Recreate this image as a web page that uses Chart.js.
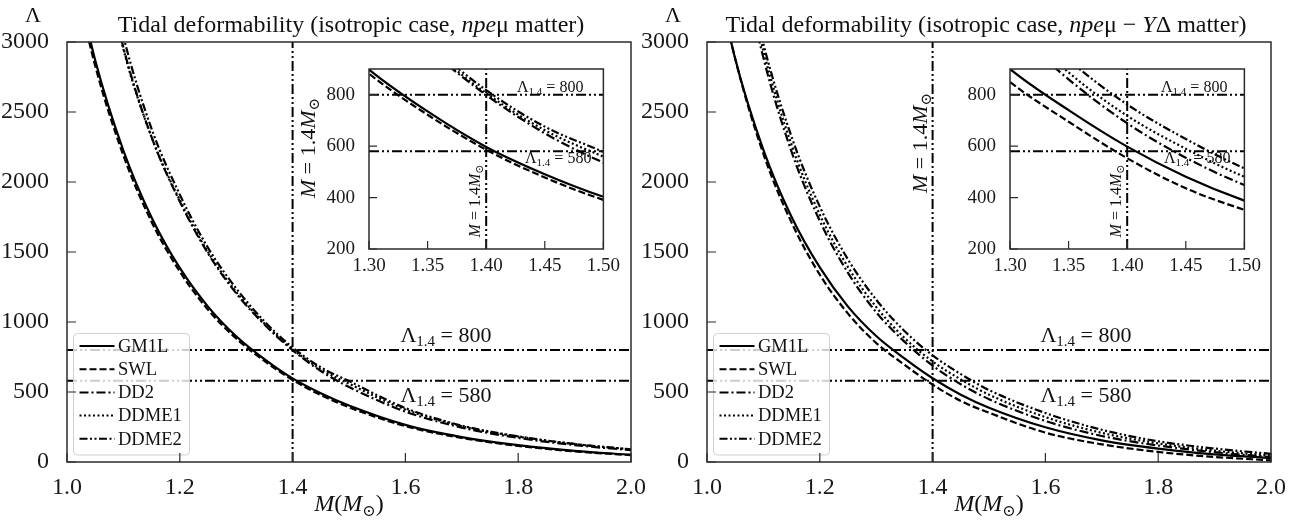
<!DOCTYPE html>
<html>
<head>
<meta charset="utf-8">
<script src="https://cdn.jsdelivr.net/npm/chart.js@4.4.1/dist/chart.umd.min.js"></script>
<style>
  body { margin: 0; background: #fff; }
  #wrap { position: relative; width: 1304px; height: 527px; overflow: hidden; }
  canvas { position: absolute; }
</style>
</head>
<body>
<div id="wrap">
  <canvas id="mainL" width="652" height="527" style="left:0;top:0"></canvas>
  <canvas id="mainR" width="652" height="527" style="left:640px;top:0"></canvas>
  <canvas id="insetL" width="310" height="230" style="left:310px;top:50px"></canvas>
  <canvas id="insetR" width="310" height="230" style="left:951px;top:50px"></canvas>
</div>
<script>
// neutron star mass grid (M_sun)
const masses = [1.0, 1.05, 1.1, 1.15, 1.2, 1.25, 1.3, 1.35, 1.4, 1.45, 1.5, 1.6, 1.7, 1.8, 1.9, 2.0];

// tidal deformability, npe-mu matter
const gm1lNpe  = [3750, 2870, 2225, 1747, 1386, 1110, 898, 735, 597, 491, 403, 265, 178, 120, 80, 52];
const swlNpe   = [3700, 2830, 2190, 1715, 1360, 1088, 882, 722, 586, 478, 391, 256, 172, 115, 76, 49];
const dd2Npe   = [5050, 3880, 2960, 2320, 1860, 1490, 1205, 982, 799, 650, 536, 360, 246, 172, 121, 84];
const ddme1Npe = [5000, 3880, 2950, 2320, 1870, 1500, 1215, 990, 806, 662, 559, 375, 255, 181, 128, 90];
const ddme2Npe = [5150, 3980, 3040, 2380, 1910, 1530, 1240, 1005, 818, 676, 578, 385, 260, 183, 129, 90];

// tidal deformability, npe-mu - Y Delta matter
const gm1lYd  = [3800, 2880, 2230, 1750, 1390, 1110, 900, 740, 598, 481, 388, 248, 155, 96, 55, 28];
const swlYd   = [3805, 2880, 2200, 1710, 1338, 1060, 850, 695, 553, 436, 352, 210, 126, 72, 36, 12];
const dd2Yd   = [5085, 3810, 2887, 2215, 1722, 1351, 1070, 860, 689, 555, 449, 293, 186, 118, 70, 35];
const ddme1Yd = [5134, 3856, 2937, 2264, 1766, 1392, 1107, 887, 718, 590, 481, 321, 208, 133, 81, 45];
const ddme2Yd = [5113, 3886, 2986, 2322, 1824, 1447, 1159, 936, 762, 628, 514, 350, 230, 148, 96, 58];

const eosNames = ['GM1L', 'SWL', 'DD2', 'DDME1', 'DDME2'];
const mainXTicks = [1.0, 1.2, 1.4, 1.6, 1.8, 2.0];
const mainYTicks = [0, 500, 1000, 1500, 2000, 2500, 3000];
const insetXTicks = [1.30, 1.35, 1.40, 1.45, 1.50];
const insetYTicks = [200, 400, 600, 800];
const lambdaLimits = [800, 580];
const mCanon = 1.4;

const SERIF = "'Liberation Serif', 'DejaVu Serif', serif";
const font = (size, style) => (style ? style + ' ' : '') + size + 'px ' + SERIF;
const eosDash = [[], [7, 3], [9, 3, 2, 3], [2, 2.5], [8, 2.5, 2, 2.5, 2, 2.5]];
const refDash = [10, 3, 2, 3, 2, 3];

function drawRuns(ctx, runs, x, y, align, angle) {
  ctx.save();
  ctx.translate(x, y);
  if (angle) ctx.rotate(angle);
  let w = 0;
  runs.forEach(r => { ctx.font = r.f; w += ctx.measureText(r.t).width; });
  let cx = align === 'center' ? -w / 2 : align === 'right' ? -w : 0;
  ctx.fillStyle = '#111';
  ctx.textBaseline = 'alphabetic';
  runs.forEach(r => {
    ctx.font = r.f;
    ctx.fillText(r.t, cx, r.dy || 0);
    cx += ctx.measureText(r.t).width;
  });
  ctx.restore();
}

const mRuns = s => [
  { t: 'M', f: font(s, 'italic') }, { t: ' = 1.4', f: font(s) },
  { t: 'M', f: font(s, 'italic') }, { t: '\u2299', f: font(Math.round(s * 0.7)), dy: s * 0.2 }
];
const lamRuns = (s, v) => [
  { t: '\u039B', f: font(s) }, { t: '1.4', f: font(Math.round(s * 0.68)), dy: s * 0.18 },
  { t: ' = ' + v, f: font(s) }
];

// frame + inward ticks drawn from the chart's own scales
const frameTicks = {
  id: 'frameTicks',
  beforeDatasetsDraw(chart, args, o) {
    if (!o.fill) return;
    const { ctx, chartArea: a } = chart;
    ctx.save();
    ctx.fillStyle = '#fff';
    ctx.fillRect(a.left, a.top, a.right - a.left, a.bottom - a.top);
    ctx.restore();
  },
  afterDraw(chart, args, o) {
    const { ctx, chartArea: a, scales: { x, y } } = chart;
    ctx.save();
    ctx.strokeStyle = '#2b2b2b';
    ctx.lineWidth = 1.2;
    ctx.beginPath();
    x.ticks.forEach(t => { const p = x.getPixelForValue(t.value); ctx.moveTo(p, a.bottom); ctx.lineTo(p, a.bottom - o.len); });
    y.ticks.forEach(t => { const p = y.getPixelForValue(t.value); ctx.moveTo(a.left, p); ctx.lineTo(a.left + o.len, p); });
    ctx.stroke();
    ctx.lineWidth = 1.5;
    ctx.strokeRect(a.left, a.top, a.right - a.left, a.bottom - a.top);
    ctx.restore();
  }
};

const boxLegend = {
  id: 'boxLegend',
  afterDatasetsDraw(chart, args, o) {
    if (!o.show) return;
    const { ctx, chartArea: a } = chart;
    const x0 = a.left + 6.5, y0 = a.bottom - 128.5;
    ctx.save();
    ctx.fillStyle = 'rgba(255,255,255,0.8)';
    ctx.strokeStyle = '#cfcfcf';
    ctx.lineWidth = 1;
    ctx.beginPath();
    ctx.roundRect(x0, y0, 116, 121.5, 4);
    ctx.fill();
    ctx.stroke();
    chart.data.datasets.slice(0, 5).forEach((d, i) => {
      const yy = y0 + 12.5 + i * 23.2;
      ctx.setLineDash(d.borderDash);
      ctx.lineWidth = 2;
      ctx.strokeStyle = '#000';
      ctx.beginPath();
      ctx.moveTo(x0 + 6, yy);
      ctx.lineTo(x0 + 41, yy);
      ctx.stroke();
      ctx.setLineDash([]);
      ctx.fillStyle = '#111';
      ctx.font = font(18.5);
      ctx.textBaseline = 'middle';
      ctx.fillText(d.label, x0 + 44.5, yy + 1);
    });
    ctx.restore();
  }
};

function buildDatasets(series, xMin, xMax, yMin, yMax) {
  const ds = series.map((vals, i) => ({
    label: eosNames[i],
    data: masses.map((m, k) => ({ x: m, y: vals[k] })),
    borderColor: '#000',
    borderWidth: 2.2,
    borderDash: eosDash[i],
    pointRadius: 0,
    cubicInterpolationMode: 'monotone',
    fill: false
  }));
  const ref = data => ({ label: '', data, borderColor: '#000', borderWidth: 2, borderDash: refDash, pointRadius: 0, fill: false });
  lambdaLimits.forEach(l => ds.push(ref([{ x: xMin, y: l }, { x: xMax, y: l }])));
  ds.push(ref([{ x: mCanon, y: yMin }, { x: mCanon, y: yMax }]));
  return ds;
}

function scaleCfg(min, max, ticksArr, size, fmt, pad, fixed, isX) {
  return {
    type: 'linear', min, max,
    afterBuildTicks: s => { s.ticks = ticksArr.map(v => ({ value: v })); },
    afterFit: s => { if (isX) s.height = fixed; else s.width = fixed; },
    grid: { display: false },
    border: { display: false },
    ticks: {
      color: '#1a1a1a', padding: pad, maxRotation: 0, autoSkip: false,
      font: { family: SERIF, size, lineHeight: 1 },
      callback: v => fmt(v)
    }
  };
}

function makeMain(id, series, titleRuns, labelRight, titleShift) {
  const notes = {
    id: 'notes',
    afterDraw(chart) {
      const { ctx, chartArea: a, scales: { x, y } } = chart;
      const cx = (a.left + a.right) / 2;
      drawRuns(ctx, titleRuns, cx + titleShift, 32, 'center');
      drawRuns(ctx, [{ t: '\u039B', f: font(22) }], a.left - 34, 22, 'center');
      drawRuns(ctx, [
        { t: 'M', f: font(24, 'italic') }, { t: '(', f: font(24) }, { t: 'M', f: font(24, 'italic') },
        { t: '\u2299', f: font(16), dy: 5 }, { t: ')', f: font(24) }
      ], cx, 511, 'center');
      const xl = x.getPixelForValue(mCanon);
      drawRuns(ctx, mRuns(22), labelRight ? xl + 22 : xl - 6, labelRight ? 148 : 143, 'center', -Math.PI / 2);
      const lx = x.getPixelForValue(1.6) - 5;
      drawRuns(ctx, lamRuns(22, 800), lx, y.getPixelForValue(800) - 8, 'left');
      drawRuns(ctx, lamRuns(22, 580), lx, y.getPixelForValue(580) + 21.5, 'left');
    }
  };
  return new Chart(document.getElementById(id), {
    type: 'line',
    data: { datasets: buildDatasets(series, 1.0, 2.0, 0, 3000) },
    options: {
      responsive: false, animation: false, devicePixelRatio: 1,
      layout: { padding: { left: 0, top: 42, right: 21, bottom: 0 } },
      plugins: { legend: { display: false }, tooltip: { enabled: false }, frameTicks: { len: 9 }, boxLegend: { show: true } },
      scales: {
        x: scaleCfg(1.0, 2.0, mainXTicks, 24, v => v.toFixed(1), 6, 65, true),
        y: scaleCfg(0, 3000, mainYTicks, 24, v => String(v), 10, 67, false)
      }
    },
    plugins: [frameTicks, boxLegend, notes]
  });
}

function makeInset(id, series, lam800dx, lam580dx) {
  const notes = {
    id: 'notes',
    afterDraw(chart) {
      const { ctx, chartArea: a, scales: { x, y } } = chart;
      const xl = x.getPixelForValue(mCanon);
      drawRuns(ctx, mRuns(16), xl - 6, 201 - 50, 'center', -Math.PI / 2);
      drawRuns(ctx, lamRuns(16, 800), a.left + lam800dx, y.getPixelForValue(800) - 3, 'left');
      drawRuns(ctx, lamRuns(16, 580), a.left + lam580dx, y.getPixelForValue(580) + 12, 'left');
    }
  };
  return new Chart(document.getElementById(id), {
    type: 'line',
    data: { datasets: buildDatasets(series, 1.3, 1.5, 200, 900) },
    options: {
      responsive: false, animation: false, devicePixelRatio: 1,
      layout: { padding: { left: 0, top: 19, right: 12, bottom: 0 } },
      plugins: { legend: { display: false }, tooltip: { enabled: false }, frameTicks: { len: 8, fill: true }, boxLegend: { show: false } },
      scales: {
        x: scaleCfg(1.3, 1.5, insetXTicks, 19, v => v.toFixed(2), 0, 31, true),
        y: scaleCfg(200, 900, insetYTicks, 19, v => String(v), 6, 59, false)
      }
    },
    plugins: [frameTicks, boxLegend, notes]
  });
}

const npeSeries = [gm1lNpe, swlNpe, dd2Npe, ddme1Npe, ddme2Npe];
const ydSeries = [gm1lYd, swlYd, dd2Yd, ddme1Yd, ddme2Yd];

makeMain('mainL', npeSeries, [
  { t: 'Tidal deformability (isotropic case, ', f: font(24) },
  { t: 'npe', f: font(24, 'italic') },
  { t: '\u03BC matter)', f: font(24) }
], true, 2);
makeMain('mainR', ydSeries, [
  { t: 'Tidal deformability (isotropic case, ', f: font(24) },
  { t: 'npe', f: font(24, 'italic') },
  { t: '\u03BC \u2212 ', f: font(24) },
  { t: 'Y', f: font(24, 'italic') },
  { t: '\u0394 matter)', f: font(24) }
], false, -3);
makeInset('insetL', npeSeries, 148, 156);
makeInset('insetR', ydSeries, 151, 154);
</script>
</body>
</html>
